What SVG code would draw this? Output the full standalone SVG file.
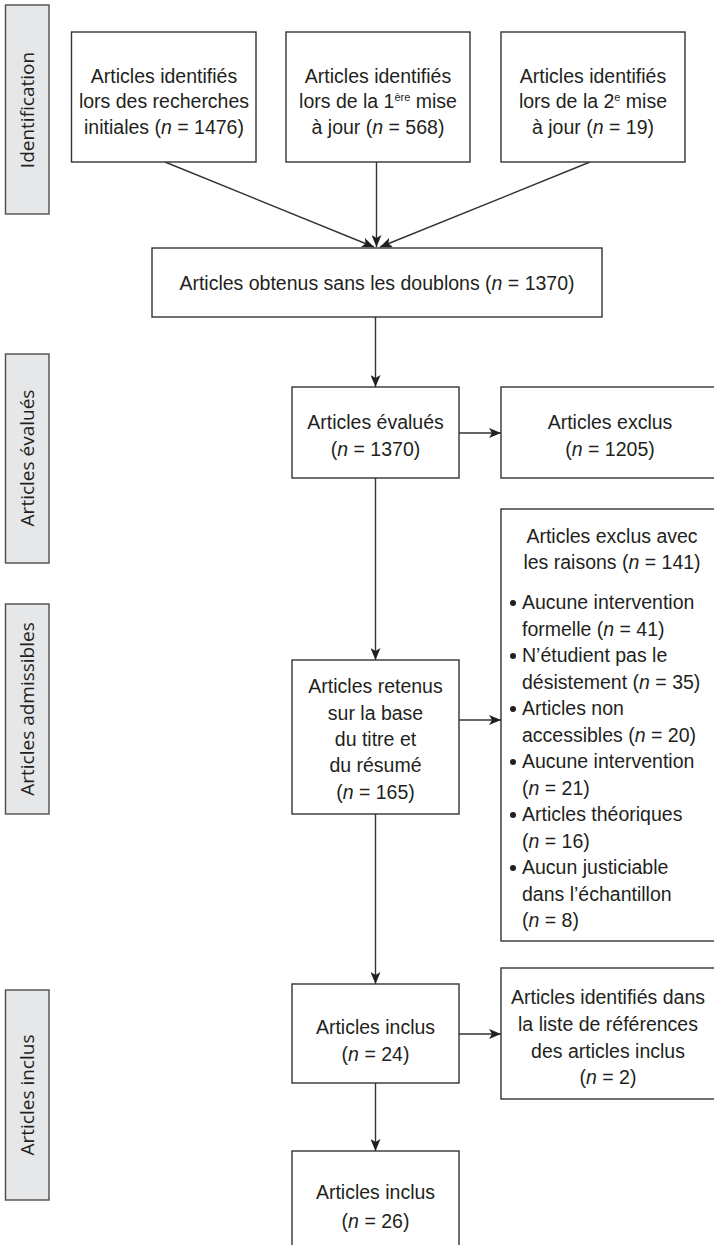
<svg xmlns="http://www.w3.org/2000/svg" width="714" height="1245" viewBox="0 0 714 1245">
<style>
.bg{fill:#ffffff}
.box{fill:#ffffff;stroke:#333333;stroke-width:1.4}
.side{fill:#e6e7e8;stroke:#4d4d4d;stroke-width:1.4}
.t{font-family:"Liberation Sans","DejaVu Sans",sans-serif;font-size:19.5px;fill:#231f20;text-anchor:middle}
.tl{font-family:"Liberation Sans","DejaVu Sans",sans-serif;font-size:19.5px;fill:#231f20}
.st{font-family:"Open Sans","DejaVu Sans",sans-serif;font-size:19px;fill:#231f20;text-anchor:middle}
.i{font-style:italic}
.con{stroke:#333333;stroke-width:1.4;fill:none;marker-end:url(#ah)}
.dot{fill:#231f20}
</style>
<defs>
<marker id="ah" viewBox="0 0 12 10" refX="12" refY="5" markerWidth="12" markerHeight="10" markerUnits="userSpaceOnUse" orient="auto">
<path d="M0,0 L12,5 L0,10 L3,5 z" fill="#231f20"/>
</marker>
</defs>
<rect class="bg" x="0" y="0" width="714" height="1245"/>

<g id="side-identification">
<rect class="side" x="5.5" y="5" width="43.5" height="209"/>
<text class="st" transform="translate(34,110) rotate(-90)">Identification</text>
</g>
<g id="side-evalues">
<rect class="side" x="5.5" y="354" width="43.5" height="209"/>
<text class="st" transform="translate(34,458) rotate(-90)">Articles évalués</text>
</g>
<g id="side-admissibles">
<rect class="side" x="5.5" y="604" width="43.5" height="210"/>
<text class="st" transform="translate(34,709) rotate(-90)">Articles admissibles</text>
</g>
<g id="side-inclus">
<rect class="side" x="5.5" y="990" width="43.5" height="210"/>
<text class="st" transform="translate(34,1095) rotate(-90)">Articles inclus</text>
</g>

<g id="connectors">
<line class="con" x1="165" y1="162" x2="374" y2="247"/>
<line class="con" x1="376.5" y1="162" x2="376.5" y2="247"/>
<line class="con" x1="590" y1="162" x2="380" y2="247"/>
<line class="con" x1="375.5" y1="317" x2="375.5" y2="387"/>
<line class="con" x1="459" y1="433" x2="501" y2="433"/>
<line class="con" x1="375.5" y1="478" x2="375.5" y2="660"/>
<line class="con" x1="459" y1="720" x2="501" y2="720"/>
<line class="con" x1="375.5" y1="814" x2="375.5" y2="984"/>
<line class="con" x1="459" y1="1034" x2="501" y2="1034"/>
<line class="con" x1="375.5" y1="1083" x2="375.5" y2="1151"/>
</g>

<g id="n-recherches">
<rect class="box" x="71.5" y="32" width="184.5" height="130"/>
<text class="t" x="164" y="83">Articles identifiés</text>
<text class="t" x="164" y="108">lors des recherches</text>
<text class="t" x="164" y="134">initiales (<tspan class="i">n</tspan> = 1476)</text>
</g>
<g id="n-maj1">
<rect class="box" x="286" y="32" width="184" height="130"/>
<text class="t" x="378" y="83">Articles identifiés</text>
<text class="t" x="378" y="108">lors de la 1<tspan font-size="11" dy="-7">ère</tspan><tspan dy="7"> mise</tspan></text>
<text class="t" x="378" y="134">à jour (<tspan class="i">n</tspan> = 568)</text>
</g>
<g id="n-maj2">
<rect class="box" x="501" y="32" width="184" height="130"/>
<text class="t" x="593" y="83">Articles identifiés</text>
<text class="t" x="593" y="108">lors de la 2<tspan font-size="11" dy="-7">e</tspan><tspan dy="7"> mise</tspan></text>
<text class="t" x="593" y="134">à jour (<tspan class="i">n</tspan> = 19)</text>
</g>
<g id="n-obtenus">
<rect class="box" x="152" y="248" width="450" height="69"/>
<text class="t" x="377" y="290">Articles obtenus sans les doublons (<tspan class="i">n</tspan> = 1370)</text>
</g>
<g id="n-evalues">
<rect class="box" x="292" y="387" width="167" height="91"/>
<text class="t" x="375.5" y="429">Articles évalués</text>
<text class="t" x="375.5" y="456">(<tspan class="i">n</tspan> = 1370)</text>
</g>
<g id="n-exclus">
<rect class="box" x="501" y="387" width="222" height="91"/>
<text class="t" x="610" y="429">Articles exclus</text>
<text class="t" x="610" y="456">(<tspan class="i">n</tspan> = 1205)</text>
</g>
<g id="n-raisons">
<rect class="box" x="501" y="509" width="222" height="432"/>
<text class="t" x="612" y="543">Articles exclus avec</text>
<text class="t" x="612" y="569">les raisons (<tspan class="i">n</tspan> = 141)</text>
<circle class="dot" cx="513" cy="603" r="3"/>
<circle class="dot" cx="513" cy="656" r="3"/>
<circle class="dot" cx="513" cy="709" r="3"/>
<circle class="dot" cx="513" cy="762" r="3"/>
<circle class="dot" cx="513" cy="815" r="3"/>
<circle class="dot" cx="513" cy="868" r="3"/>
<text class="tl" x="522" y="609">Aucune intervention</text>
<text class="tl" x="522" y="636">formelle (<tspan class="i">n</tspan> = 41)</text>
<text class="tl" x="522" y="662">N’étudient pas le</text>
<text class="tl" x="522" y="689">désistement (<tspan class="i">n</tspan> = 35)</text>
<text class="tl" x="522" y="715">Articles non</text>
<text class="tl" x="522" y="742">accessibles (<tspan class="i">n</tspan> = 20)</text>
<text class="tl" x="522" y="768">Aucune intervention</text>
<text class="tl" x="522" y="795">(<tspan class="i">n</tspan> = 21)</text>
<text class="tl" x="522" y="821">Articles théoriques</text>
<text class="tl" x="522" y="848">(<tspan class="i">n</tspan> = 16)</text>
<text class="tl" x="522" y="874">Aucun justiciable</text>
<text class="tl" x="522" y="901">dans l’échantillon</text>
<text class="tl" x="522" y="927">(<tspan class="i">n</tspan> = 8)</text>
</g>
<g id="n-retenus">
<rect class="box" x="292" y="660" width="167" height="154"/>
<text class="t" x="375.5" y="693">Articles retenus</text>
<text class="t" x="375.5" y="720">sur la base</text>
<text class="t" x="375.5" y="746">du titre et</text>
<text class="t" x="375.5" y="772">du résumé</text>
<text class="t" x="375.5" y="799">(<tspan class="i">n</tspan> = 165)</text>
</g>
<g id="n-inclus24">
<rect class="box" x="292" y="984" width="167" height="99"/>
<text class="t" x="375.5" y="1034">Articles inclus</text>
<text class="t" x="375.5" y="1061">(<tspan class="i">n</tspan> = 24)</text>
</g>
<g id="n-references">
<rect class="box" x="501" y="968" width="222" height="131"/>
<text class="t" x="608" y="1004">Articles identifiés dans</text>
<text class="t" x="608" y="1031">la liste de références</text>
<text class="t" x="608" y="1058">des articles inclus</text>
<text class="t" x="608" y="1084">(<tspan class="i">n</tspan> = 2)</text>
</g>
<g id="n-inclus26">
<rect class="box" x="292" y="1151" width="167" height="110"/>
<text class="t" x="375.5" y="1199">Articles inclus</text>
<text class="t" x="375.5" y="1228">(<tspan class="i">n</tspan> = 26)</text>
</g>
</svg>
